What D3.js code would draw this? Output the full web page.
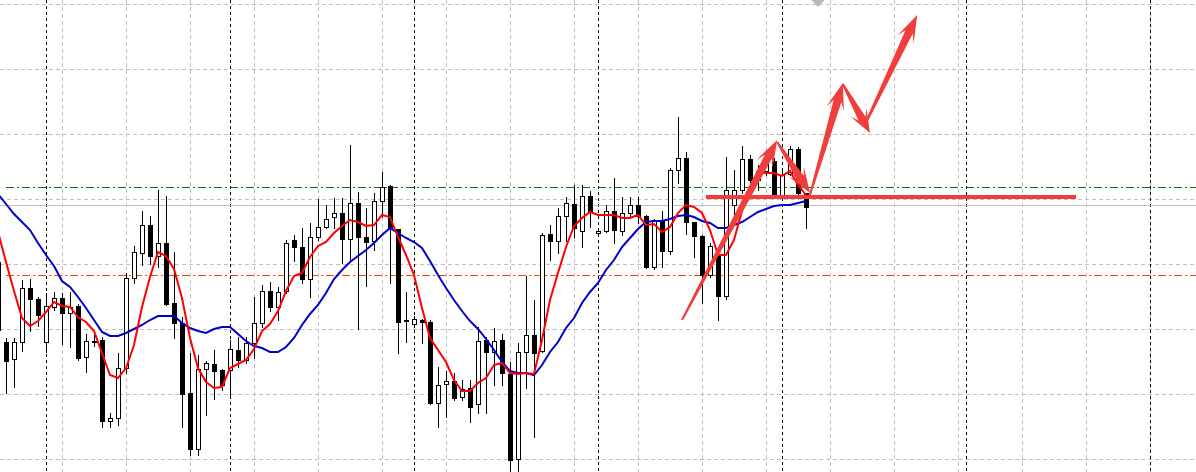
<!DOCTYPE html>
<html><head><meta charset="utf-8">
<script src="https://cdn.jsdelivr.net/npm/d3@7/dist/d3.min.js"></script>
<style>html,body{margin:0;padding:0;background:#fff;overflow:hidden}</style>
</head><body>
<svg id="chart" width="1196" height="472"></svg>
<script>
// ---- data (bar index, price units) ----
const barIndex = d3.range(-1, 101);
const opens = [170,158,141,158,212,201,158,193,202,187,194,143,159,160,79,82,132,222,247,275,244,257,197,177,107,51,131,136,130,130,150,140,157,177,209,193,209,260,253,221,263,273,283,287,261,297,263,259,299,314,271,180,176,180,178,97,116,119,103,112,96,160,148,160,126,41,148,165,149,266,259,284,296,269,304,267,269,289,269,287,295,284,233,280,249,330,342,278,264,225,244,204,295,310,341,320,329,339,305,326,351,307];
const highs = [242,162,162,220,221,203,207,208,207,208,196,166,165,163,87,147,227,254,289,284,310,304,248,183,147,145,139,150,131,160,163,163,203,215,218,213,260,265,272,277,301,295,302,302,355,308,292,307,328,315,271,208,184,181,180,133,129,127,120,120,173,163,172,166,138,157,224,200,267,275,292,303,315,315,309,271,295,322,303,303,303,285,281,289,332,383,348,278,265,257,245,343,330,354,345,335,350,342,332,354,353,307];
const lows = [158,107,113,149,169,174,148,190,156,153,140,128,154,73,73,75,127,217,235,236,233,195,162,73,45,45,85,101,110,102,133,137,142,173,189,180,207,239,217,203,260,272,272,237,238,171,214,250,283,217,147,158,173,157,96,73,83,100,100,78,87,87,115,115,28,29,112,63,148,240,247,259,263,253,273,265,268,257,265,283,277,232,231,233,246,317,266,243,197,223,180,201,285,307,318,310,325,303,303,325,306,272];
const closes = [238,139,158,212,201,185,194,202,187,193,142,159,158,79,82,132,222,248,275,244,257,196,177,106,51,131,137,129,115,151,140,157,177,209,193,208,257,253,221,263,273,281,287,261,297,263,258,299,313,271,178,179,181,178,97,115,119,102,111,93,159,148,159,127,40,148,165,147,265,259,284,297,272,304,288,269,289,270,287,295,284,233,280,249,330,342,278,264,225,254,204,310,310,341,320,329,339,304,325,351,307,293];
const maFast = [268,238,209,182,174,179,188,198,194,193,183,178,169,147,125,122,132,155,193,223,248,244,231,202,162,132,118,112,113,132,136,140,151,169,176,189,209,224,227,243,254,258,267,274,280,278,274,275,285,283,263,245,225,192,162,150,138,120,109,109,117,122,135,137,127,126,127,126,160,200,227,253,274,282,288,285,285,285,282,282,285,275,276,268,273,287,295,293,287,270,245,245,260,289,313,327,327,327,324,329,315,305];
const maSlow = [306,296,286,278,270,257,245,234,219,213,203,192,180,168,164,164,167,171,175,180,184,184,184,177,172,169,167,171,173,173,166,159,154,152,148,148,153,162,175,186,195,207,221,230,238,244,250,257,265,272,267,262,258,252,239,225,212,200,189,179,171,161,150,138,129,127,127,125,135,148,158,172,182,197,208,217,230,240,253,262,271,278,279,279,281,284,285,283,279,277,272,272,275,278,283,288,291,294,295,295,297,299];

// grid / levels
const gridPrices = [41,106,171,236,301,366,431,496];
const gridBars = d3.range(7, 150, 8);
const separatorBars = [5,28,51,74,97,120,143];
const levelGreen = 313, levelOrange = 225, levelBid = 295;
// drawn objects
const trendStart = 87.5, trendEnd = 133.75, trendPrice = 303;
const arrowFromBar = [84.5, 96.4, 100.5, 104.6, 107.3];
const arrowFromPrice = [180, 358, 305, 416, 374];
const arrowToBar = [96.4, 100.5, 104.6, 108.0, 113.9];
const arrowToPrice = [360, 307, 417, 367, 485];
const markerBar = 101.5, markerTop = 501, markerTip = 493;

// ---- scales ----
const W = 1196, H = 472;
const x = d3.scaleLinear().domain([0, 100]).range([6, 806]);
const y = d3.scaleLinear().domain([28, 500]).range([472, 0]);
const svg = d3.select('#chart');
svg.append('rect').attr('width', W).attr('height', H).attr('fill', '#fff');
const px = v => Math.round(x(v)) + 0.5;
const py = v => Math.round(y(v)) + 0.5;

// grid
const grid = svg.append('g').attr('shape-rendering', 'crispEdges');
grid.selectAll('line.h').data(gridPrices).join('line')
  .attr('x1', 0).attr('x2', W).attr('y1', d => py(d)).attr('y2', d => py(d))
  .attr('stroke', '#c0c0c0').attr('stroke-dasharray', '4,3');
grid.selectAll('line.v').data(gridBars).join('line')
  .attr('y1', 0).attr('y2', H).attr('x1', d => px(d)).attr('x2', d => px(d))
  .attr('stroke', '#c0c0c0').attr('stroke-dasharray', '4,3');
grid.selectAll('line.s').data(separatorBars).join('line')
  .attr('y1', 0).attr('y2', H).attr('x1', d => px(d)).attr('x2', d => px(d))
  .attr('stroke', '#000').attr('stroke-dasharray', '3,3');

// levels
const lv = svg.append('g').attr('shape-rendering', 'crispEdges');
lv.append('line').attr('x1', 0).attr('x2', W).attr('y1', py(levelBid)).attr('y2', py(levelBid)).attr('stroke', '#c0c0c0');
lv.append('line').attr('x1', 6).attr('x2', W).attr('y1', py(levelGreen)).attr('y2', py(levelGreen)).attr('stroke', '#007a00').attr('stroke-dasharray', '8,3,2,3');
lv.append('line').attr('x1', 6).attr('x2', W).attr('y1', py(levelOrange)).attr('y2', py(levelOrange)).attr('stroke', '#ff4500').attr('stroke-dasharray', '8,3,2,3');

// candles
const candles = barIndex.map((b, k) => ({b, o: opens[k], h: highs[k], l: lows[k], c: closes[k]}));
const cg = svg.append('g').attr('shape-rendering', 'crispEdges');
cg.selectAll('line').data(candles).join('line')
  .attr('x1', d => px(d.b)).attr('x2', d => px(d.b))
  .attr('y1', d => Math.round(y(d.h))).attr('y2', d => Math.round(y(d.l)) + 1)
  .attr('stroke', '#000');
cg.selectAll('path').data(candles).join('path')
  .attr('d', d => {
    const cx = Math.round(x(d.b));
    const t = Math.round(y(Math.max(d.o, d.c))), bt = Math.round(y(Math.min(d.o, d.c)));
    return `M${cx - 1.5},${t + 0.5}h4v${bt - t}h-4Z`;
  })
  .attr('fill', d => d.c >= d.o ? '#fff' : '#000').attr('stroke', '#000');

// moving averages
const line = d3.line().x(d => x(d.b)).y(d => y(d.v));
svg.append('path').datum(barIndex.map((b, k) => ({b, v: maSlow[k]})))
  .attr('d', line).attr('fill', 'none').attr('stroke', '#0000cd').attr('stroke-width', 2);
svg.append('path').datum(barIndex.map((b, k) => ({b, v: maFast[k]})))
  .attr('d', line).attr('fill', 'none').attr('stroke', '#ff0000').attr('stroke-width', 2);

// drawn objects
const objColor = '#f23d3d';
svg.append('line').attr('x1', x(trendStart)).attr('x2', x(trendEnd))
  .attr('y1', y(trendPrice)).attr('y2', y(trendPrice))
  .attr('stroke', objColor).attr('stroke-width', 4);
function arrowPts(x1, y1, x2, y2) {
  const dx = x2 - x1, dy = y2 - y1, L = Math.hypot(dx, dy);
  const ux = dx / L, uy = dy / L, nx = -uy, ny = ux;
  const hl = Math.min(27, L * 0.42), hw = 9, sw = 8, tw = 2;
  const P = (t, s) => [x1 + ux * t + nx * s, y1 + uy * t + ny * s];
  return [P(0, -tw / 2), P(L - hl * 0.7, -sw / 2), P(L - hl, -hw), P(L, 0), P(L - hl, hw), P(L - hl * 0.7, sw / 2), P(0, tw / 2)];
}
const arrows = arrowFromBar.map((b, k) => arrowPts(x(b), y(arrowFromPrice[k]), x(arrowToBar[k]), y(arrowToPrice[k])));
svg.append('g').selectAll('polygon').data(arrows).join('polygon')
  .attr('points', d => d.map(p => p.join(',')).join(' '))
  .attr('fill', objColor);
svg.append('polygon')
  .attr('points', [[x(markerBar - 0.95), y(markerTop)], [x(markerBar + 0.95), y(markerTop)], [x(markerBar), y(markerTip)]].map(p => p.join(',')).join(' '))
  .attr('fill', '#b8b8b8');
</script>
</body></html>
